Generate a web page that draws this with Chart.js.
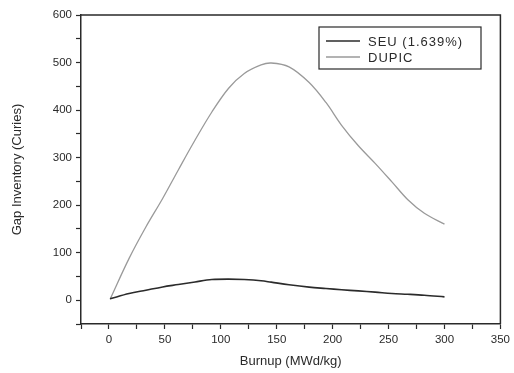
<!DOCTYPE html>
<html>
<head>
<meta charset="utf-8">
<script src="https://cdn.jsdelivr.net/npm/chart.js@4.4.1/dist/chart.umd.min.js"></script>
<style>
  html, body { margin: 0; padding: 0; background: #fff; }
  #wrap { width: 514px; height: 373px; }
</style>
</head>
<body>
<div id="wrap"><canvas id="gapChart" width="514" height="373"></canvas></div>
<script>
// Data
const burnup = [1, 18, 33, 48, 62, 77, 92, 107, 121, 136, 145, 161, 179, 194, 208, 223, 238, 253, 267, 282, 300];
const seu    = [3, 14, 21, 28, 33, 38.5, 43.5, 44.5, 43.5, 41, 38, 32.5, 27.5, 24.6, 22, 19.6, 17, 14, 12.5, 10.5, 7];
const dupic  = [2, 88, 154, 214, 274, 337, 396, 446, 477, 495, 499, 491, 458, 416, 368, 325, 288, 249, 212, 183, 160];
const seriesNames = ["SEU (1.639%)", "DUPIC"];
const xTicks = [0, 50, 100, 150, 200, 250, 300, 350];
const yTicks = [0, 100, 200, 300, 400, 500, 600];

const FONT = "'Liberation Sans', Arial, sans-serif";
const INK = "#2a2a2a";

function toPoints(xs, ys) {
    return xs.map((x, i) => ({ x: x, y: ys[i] }));
}

// Box around the plot area and a legend inside it
const framePlugin = {
    id: "frame",
    afterDraw(chart) {
        const { ctx, chartArea: a } = chart;
        ctx.save();
        ctx.strokeStyle = INK;
        ctx.lineWidth = 1.5;
        ctx.beginPath();
        ctx.moveTo(a.left, a.top);
        ctx.lineTo(a.right, a.top);
        ctx.lineTo(a.right, a.bottom);
        ctx.stroke();

        // legend box
        const bx = 319, by = 27, bw = 162, bh = 42;
        ctx.lineWidth = 1.2;
        ctx.strokeRect(bx, by, bw, bh);
        ctx.font = "13px " + FONT;
        ctx.letterSpacing = "1px";
        ctx.textBaseline = "middle";
        chart.data.datasets.forEach((ds, i) => {
            const yy = by + 14 + i * 16;
            ctx.strokeStyle = ds.borderColor;
            ctx.lineWidth = ds.borderWidth;
            ctx.beginPath();
            ctx.moveTo(bx + 7, yy);
            ctx.lineTo(bx + 41, yy);
            ctx.stroke();
            ctx.fillStyle = INK;
            ctx.fillText(ds.label, bx + 49, yy + 1);
        });
        ctx.restore();
    }
};

new Chart(document.getElementById("gapChart"), {
    type: "line",
    data: {
        datasets: [
            {
                label: seriesNames[0],
                data: toPoints(burnup, seu),
                borderColor: "#2b2b2b",
                borderWidth: 1.6,
                pointRadius: 0,
                tension: 0.35
            },
            {
                label: seriesNames[1],
                data: toPoints(burnup, dupic),
                borderColor: "#9a9a9a",
                borderWidth: 1.3,
                pointRadius: 0,
                tension: 0.35
            }
        ]
    },
    options: {
        responsive: false,
        animation: false,
        layout: { padding: { top: 15, right: 11, left: 0, bottom: 0 } },
        plugins: {
            legend: { display: false },
            tooltip: { enabled: false }
        },
        scales: {
            x: {
                type: "linear",
                min: -25,
                max: 350,
                ticks: {
                    stepSize: 25,
                    autoSkip: false,
                    maxRotation: 0,
                    color: INK,
                    font: { family: FONT, size: 11.5 },
                    padding: 4,
                    callback: v => xTicks.includes(v) ? String(v) : ""
                },
                grid: { drawOnChartArea: false, tickLength: 5, tickColor: INK, tickWidth: 1.2 },
                border: { color: INK, width: 1.5 },
                title: {
                    display: true,
                    text: "Burnup (MWd/kg)",
                    color: INK,
                    font: { family: FONT, size: 13 },
                    padding: { top: 4 }
                },
                afterFit: s => { s.height = 49; }
            },
            y: {
                type: "linear",
                min: -50,
                max: 600,
                ticks: {
                    stepSize: 50,
                    autoSkip: false,
                    color: INK,
                    font: { family: FONT, size: 11.5 },
                    padding: 4,
                    callback: v => yTicks.includes(v) ? String(v) : ""
                },
                grid: { drawOnChartArea: false, tickLength: 5, tickColor: INK, tickWidth: 1.2 },
                border: { color: INK, width: 1.5 },
                title: {
                    display: true,
                    text: "Gap Inventory (Curies)",
                    color: INK,
                    font: { family: FONT, size: 13 },
                    padding: { top: 10, bottom: 0 }
                },
                afterFit: s => { s.width = 81; }
            }
        }
    },
    plugins: [framePlugin]
});
</script>
</body>
</html>
